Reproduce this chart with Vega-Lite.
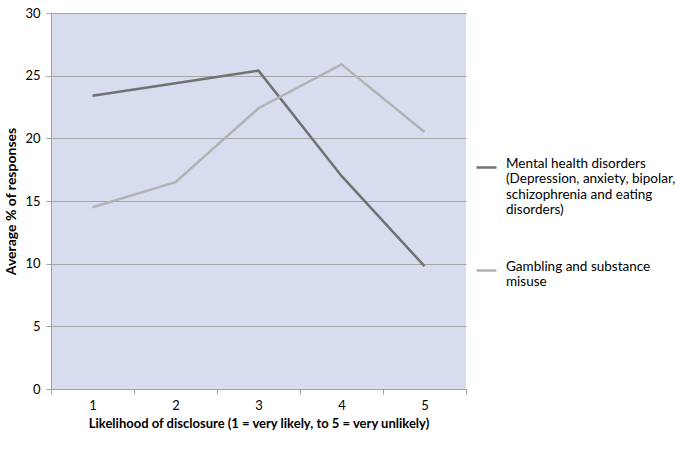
{
  "$schema": "https://vega.github.io/schema/vega-lite/v6.json",
  "width": 415,
  "height": 376,
  "autosize": {"type": "none"},
  "padding": {"left": 51, "top": 13, "right": 209, "bottom": 64},
  "background": "white",
  "data": {
    "values": [
      {"level": "1", "series": "Mental health disorders", "value": 23.4},
      {"level": "2", "series": "Mental health disorders", "value": 24.4},
      {"level": "3", "series": "Mental health disorders", "value": 25.4},
      {"level": "4", "series": "Mental health disorders", "value": 17.0},
      {"level": "5", "series": "Mental health disorders", "value": 9.8},
      {"level": "1", "series": "Gambling and substance misuse", "value": 14.5},
      {"level": "2", "series": "Gambling and substance misuse", "value": 16.5},
      {"level": "3", "series": "Gambling and substance misuse", "value": 22.4},
      {"level": "4", "series": "Gambling and substance misuse", "value": 25.9},
      {"level": "5", "series": "Gambling and substance misuse", "value": 20.5}
    ]
  },
  "mark": {"type": "line", "strokeWidth": 2.5},
  "encoding": {
    "x": {
      "field": "level",
      "type": "ordinal",
      "bandPosition": 0.5,
      "scale": {"type": "band", "paddingInner": 0, "paddingOuter": 0},
      "axis": {
        "title": "Likelihood of disclosure (1 = very likely, to 5 = very unlikely)",
        "labelAngle": 0,
        "tickBand": "extent",
        "grid": false,
        "domainColor": "#A0A0A0",
        "tickColor": "#A0A0A0",
        "tickSize": 5,
        "labelPadding": 5,
        "titlePadding": 5
      }
    },
    "y": {
      "field": "value",
      "type": "quantitative",
      "scale": {"domain": [0, 30]},
      "axis": {
        "title": "Average % of responses",
        "titleFontSize": 14,
        "values": [0, 5, 10, 15, 20, 25, 30],
        "grid": true,
        "gridColor": "#A6A6A6",
        "gridWidth": 1.2,
        "domainColor": "#A0A0A0",
        "tickColor": "#A0A0A0",
        "tickSize": 5,
        "labelPadding": 6,
        "titlePadding": 6
      }
    },
    "color": {
      "field": "series",
      "type": "nominal",
      "scale": {
        "domain": ["Mental health disorders", "Gambling and substance misuse"],
        "range": ["#717171", "#B3B3B3"]
      },
      "legend": {
        "title": null,
        "orient": "none",
        "legendX": 424,
        "legendY": 143,
        "symbolType": "stroke",
        "symbolSize": 400,
        "symbolStrokeWidth": 2.5,
        "labelExpr": "datum.label == 'Mental health disorders' ? ['Mental health disorders', '(Depression, anxiety, bipolar,', 'schizophrenia and eating', 'disorders)'] : ['Gambling and substance', 'misuse']",
        "labelBaseline": "alphabetic",
        "labelLimit": 0,
        "labelFontSize": 13.5,
        "labelLineHeight": 18,
        "labelColor": "#000000",
        "labelOffset": 8,
        "rowPadding": 42
      }
    }
  },
  "config": {
    "font": "Lato",
    "view": {"fill": "#D8DCEF", "stroke": null},
    "axis": {
      "labelFont": "Lato",
      "labelFontSize": 13,
      "labelColor": "#000000",
      "titleFont": "Lato",
      "titleFontSize": 13,
      "titleFontWeight": "bold",
      "titleColor": "#000000"
    }
  }
}
